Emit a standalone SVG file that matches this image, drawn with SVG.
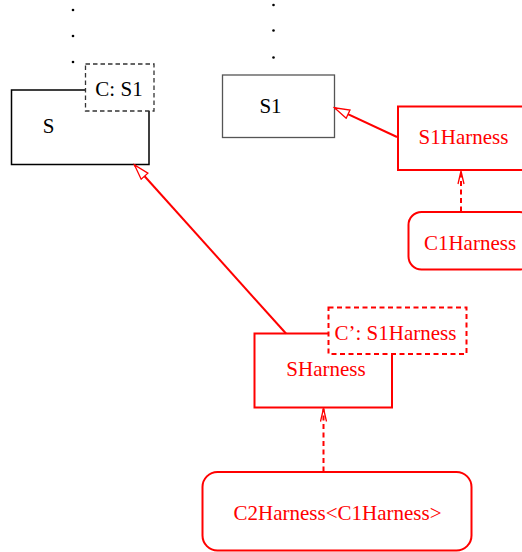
<svg xmlns="http://www.w3.org/2000/svg" width="522" height="552" viewBox="0 0 522 552">
<style>
text{font-family:"Liberation Serif","Times New Roman",serif;font-size:21px}
.blk{fill:#000}
.red{fill:#ff0000}
.rs{stroke:#ff0000;stroke-width:2;fill:none}
.rd{stroke:#ff0000;stroke-width:2;fill:none;stroke-dasharray:5,3.5}
.kd{stroke:#333;stroke-width:1.3;fill:none;stroke-dasharray:4.5,3}
</style>
<defs>
<marker id="tri" markerUnits="userSpaceOnUse" markerWidth="18" markerHeight="12" refX="16" refY="5.5" orient="auto">
<path d="M1,1 L16,5.5 L1,10 z" fill="#fff" stroke="#ff0000" stroke-width="1.3"/>
</marker>
<marker id="vee" markerUnits="userSpaceOnUse" markerWidth="16" markerHeight="10" refX="14" refY="4" orient="auto">
<path d="M1,1 L14,4 L1,7" fill="none" stroke="#ff0000" stroke-width="1.3"/>
</marker>
</defs>
<g id="dots">
<circle cx="73" cy="10" r="1.3" class="blk"/>
<circle cx="73" cy="36" r="1.3" class="blk"/>
<circle cx="73" cy="62" r="1.3" class="blk"/>
<circle cx="273.5" cy="5" r="1.3" class="blk"/>
<circle cx="273.5" cy="30.5" r="1.3" class="blk"/>
<circle cx="273.5" cy="57.5" r="1.3" class="blk"/>
</g>
<g id="S">
<path d="M85.5,90 H11.5 V164.5 H149 V111" fill="none" stroke="#000" stroke-width="1.5"/>
<text x="48.5" y="133" class="blk" text-anchor="middle">S</text>
</g>
<g id="C_S1">
<rect x="85.5" y="64" width="68.5" height="47" class="kd"/>
<text x="119" y="96" class="blk" text-anchor="middle">C: S1</text>
</g>
<g id="S1">
<rect x="222.5" y="75" width="112" height="62.5" fill="none" stroke="#555" stroke-width="1.3"/>
<text x="270.5" y="112.5" class="blk" text-anchor="middle">S1</text>
</g>
<g id="S1Harness">
<rect x="398" y="106.5" width="131" height="63.5" class="rs"/>
<text x="463.5" y="144" class="red" text-anchor="middle">S1Harness</text>
</g>
<g id="C1Harness">
<rect x="408.5" y="212" width="124" height="57.5" rx="13" class="rs"/>
<text x="470" y="249.5" class="red" text-anchor="middle">C1Harness</text>
</g>
<g id="SHarness">
<path d="M328.5,333.5 H254.5 V407.5 H392 V354.5" class="rs"/>
<text x="326" y="376" class="red" text-anchor="middle">SHarness</text>
</g>
<g id="Cp_S1Harness">
<rect x="328.5" y="307.5" width="138" height="46.5" class="rd"/>
<text x="395.5" y="339.5" class="red" text-anchor="middle">C’: S1Harness</text>
</g>
<g id="C2Harness">
<rect x="202.5" y="472" width="269" height="78.5" rx="15" class="rs"/>
<text x="337.5" y="519.5" class="red" text-anchor="middle">C2Harness&lt;C1Harness&gt;</text>
</g>
<g id="connectors">
<line x1="397" y1="137" x2="334.5" y2="107.8" class="rs" marker-end="url(#tri)"/>
<line x1="286" y1="333.5" x2="134.5" y2="165" class="rs" marker-end="url(#tri)"/>
<line x1="461" y1="211.5" x2="461" y2="171" class="rd" marker-end="url(#vee)"/>
<line x1="323.5" y1="471.5" x2="323.5" y2="408.5" class="rd" marker-end="url(#vee)"/>
</g>
</svg>
